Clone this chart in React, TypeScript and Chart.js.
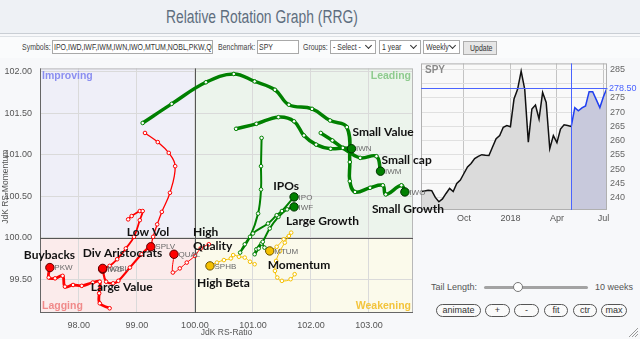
import React, { useEffect, useRef } from 'react';
import { Chart, registerables } from 'chart.js';

Chart.register(...registerables);

// ---------------- RRG data (JdK RS-Ratio / JdK RS-Momentum), oldest -> latest ----------------
const tickers = ['IPO', 'IWD', 'IWF', 'IWM', 'IWN', 'IWO', 'MTUM', 'NOBL', 'PKW', 'QUAL', 'SPHB', 'SPLV'];
const names = ['IPOs', 'Large Value', 'Large Growth', 'Small cap', 'Small Value', 'Small Growth', 'Momentum', 'Div Aristocrats', 'Buybacks', 'High\nQuality', 'High Beta', 'Low Vol'];

const ipoRatio = [101.15, 101.14, 101.14, 101.09, 100.95, 100.78, 100.86, 101.0, 101.26, 101.41, 101.5, 101.71];
const ipoMomentum = [101.2, 100.86, 100.58, 100.29, 100.01, 99.82, 99.92, 100.05, 100.17, 100.27, 100.32, 100.49];

const iwdRatio = [99.26, 99.08, 98.88, 98.68, 98.59, 98.47, 98.41];
const iwdMomentum = [99.92, 99.8, 99.64, 99.48, 99.45, 99.47, 99.62];

const iwfRatio = [101.2, 101.15, 101.06, 101.03, 101.1, 101.17, 101.29, 101.44, 101.59, 101.71];
const iwfMomentum = [99.88, 99.93, 99.86, 99.8, 99.87, 99.95, 100.11, 100.25, 100.34, 100.37];

const iwmRatio = [102.17, 102.37, 102.55, 102.85, 103.13, 103.2];
const iwmMomentum = [101.26, 101.17, 101.08, 100.96, 100.98, 100.8];

const iwnRatio = [100.71, 101.06, 101.44, 101.71, 101.88, 102.09, 102.34, 102.56, 102.7];
const iwnMomentum = [101.31, 101.37, 101.45, 101.4, 101.23, 101.12, 101.07, 101.08, 101.07];

const iwoRatio = [99.1, 99.6, 100.19, 100.67, 101.03, 101.38, 101.62, 102.02, 102.33, 102.62, 102.67, 102.67, 102.76, 103.02, 103.24, 103.29, 103.56, 103.62];
const iwoMomentum = [101.38, 101.61, 101.87, 101.97, 101.88, 101.78, 101.6, 101.55, 101.41, 101.33, 100.91, 100.68, 100.55, 100.6, 100.63, 100.52, 100.63, 100.55];

const mtumRatio = [101.72, 101.65, 101.5, 101.42, 101.38, 101.4, 101.47, 101.55, 101.62, 101.66, 101.53, 101.41, 101.29];
const mtumMomentum = [99.56, 99.5, 99.48, 99.52, 99.6, 99.72, 99.84, 99.94, 100.02, 100.06, 99.98, 99.89, 99.84];

const noblRatio = [98.85, 98.91, 99.05, 99.1, 99.05, 98.95, 98.81, 98.66, 98.53, 98.41];
const noblMomentum = [100.22, 100.26, 100.32, 100.32, 100.21, 100.01, 99.87, 99.74, 99.66, 99.63];

const pkwRatio = [98.53, 98.36, 98.35, 98.36, 98.24, 98.05, 97.9, 97.76, 97.72, 97.59, 97.48, 97.5];
const pkwMomentum = [99.15, 99.21, 99.33, 99.47, 99.46, 99.42, 99.43, 99.41, 99.54, 99.51, 99.52, 99.64];

const qualRatio = [100.24, 100.1, 100.0, 99.86, 99.74, 99.62, 99.64];
const qualMomentum = [99.92, 99.87, 99.78, 99.7, 99.63, 99.58, 99.8];

const sphbRatio = [101.03, 100.95, 100.86, 100.76, 100.66, 100.62, 100.5, 100.38, 100.26];
const sphbMomentum = [99.68, 99.71, 99.76, 99.77, 99.79, 99.75, 99.73, 99.7, 99.66];

const splvRatio = [99.14, 99.36, 99.55, 99.66, 99.57, 99.43, 99.35, 99.28, 99.24];
const splvMomentum = [101.26, 101.15, 101.02, 100.86, 100.54, 100.31, 100.16, 100.01, 99.89];

const ratios = [ipoRatio, iwdRatio, iwfRatio, iwmRatio, iwnRatio, iwoRatio, mtumRatio, noblRatio, pkwRatio, qualRatio, sphbRatio, splvRatio];
const momenta = [ipoMomentum, iwdMomentum, iwfMomentum, iwmMomentum, iwnMomentum, iwoMomentum, mtumMomentum, noblMomentum, pkwMomentum, qualMomentum, sphbMomentum, splvMomentum];

const rrgXTicks = [98, 99, 100, 101, 102, 103];
const rrgYTicks = [99.5, 100, 100.5, 101, 101.5, 102];

// ---------------- SPY benchmark (weekly close) ----------------
const spyDates = [
  '2017-07-14', '2017-07-21', '2017-07-28', '2017-08-04', '2017-08-11', '2017-08-18', '2017-08-25', '2017-09-01',
  '2017-09-08', '2017-09-15', '2017-09-22', '2017-09-29', '2017-10-06', '2017-10-13', '2017-10-20', '2017-10-27',
  '2017-11-03', '2017-11-10', '2017-11-17', '2017-11-24', '2017-12-01', '2017-12-08', '2017-12-15', '2017-12-22',
  '2017-12-29', '2018-01-05', '2018-01-12', '2018-01-19', '2018-01-26', '2018-02-02', '2018-02-09', '2018-02-16',
  '2018-02-23', '2018-03-02', '2018-03-09', '2018-03-16', '2018-03-23', '2018-03-30', '2018-04-06', '2018-04-13',
  '2018-04-20', '2018-04-27', '2018-05-04', '2018-05-11', '2018-05-18', '2018-05-25', '2018-06-01', '2018-06-08',
  '2018-06-15', '2018-06-22', '2018-06-29', '2018-07-06', '2018-07-13',
];
const spyClose = [
  242.1, 242.4, 242.6, 242.5, 240.1, 238.6, 239.6, 241.5, 243.3, 242.2, 245.0, 246.2, 248.5, 250.8, 252.0, 253.7,
  254.5, 255.1, 254.9, 254.8, 257.8, 260.7, 261.8, 264.7, 265.3, 264.9, 274.6, 278.0, 284.4, 278.0, 259.5, 271.1,
  272.5, 267.6, 276.9, 273.4, 257.2, 261.8, 259.3, 264.1, 265.6, 265.3, 265.0, 271.6, 270.5, 271.5, 272.2, 277.2,
  277.2, 274.4, 271.6, 275.4, 278.5,
];
const spyYTicks = [240, 245, 250, 255, 260, 265, 270, 275, 280, 285];
const tailWeeks = 10;

// ---------------- styles ----------------
const SANS = '"Liberation Sans", Arial, sans-serif';
const LABEL_FONT = 'Lato, "Open Sans", sans-serif';

const tailWidth: Record<string, number> = {
  IPO: 2, IWD: 2.2, IWF: 2, IWM: 3.5, IWN: 3.5, IWO: 3.5, MTUM: 1, NOBL: 1.8, PKW: 2.8, QUAL: 1, SPHB: 1, SPLV: 1.3,
};
const nameOffset: Record<string, { dx: number; dy: number; align: CanvasTextAlign }> = {
  IPO: { dx: -8, dy: -11, align: 'center' },
  IWD: { dx: -12, dy: 18, align: 'left' },
  IWF: { dx: -8, dy: 14, align: 'left' },
  IWM: { dx: 1, dy: -11, align: 'left' },
  IWN: { dx: 1, dy: -17, align: 'left' },
  IWO: { dx: -33, dy: 17, align: 'left' },
  MTUM: { dx: -2, dy: 14.5, align: 'left' },
  NOBL: { dx: -20, dy: -15.5, align: 'left' },
  PKW: { dx: -26, dy: -12.5, align: 'left' },
  QUAL: { dx: 19, dy: -22, align: 'left' },
  SPHB: { dx: -13, dy: 17, align: 'left' },
  SPLV: { dx: -24, dy: -14.5, align: 'left' },
};

function quadrantColors(x: number, y: number) {
  if (x >= 100 && y >= 100) return { line: '#008000', head: '#008000', edge: '#003000' };
  if (x >= 100) return { line: '#f5c000', head: '#f5c000', edge: '#6a5200' };
  if (y >= 100) return { line: '#3030e0', head: '#3030e0', edge: '#101060' };
  return { line: '#ff0000', head: '#ff0000', edge: '#600000' };
}

const series = tickers.map((t, i) => {
  const r = ratios[i];
  const m = momenta[i];
  const hx = r[r.length - 1];
  const hy = m[m.length - 1];
  return { ticker: t, name: names[i], ratio: r, momentum: m, colors: quadrantColors(hx, hy) };
});

const rrgPlugin = {
  id: 'rrgDecor',
  beforeDraw(chart: any) {
    const { ctx, chartArea: a, scales } = chart;
    const cx = scales.x.getPixelForValue(100);
    const cy = scales.y.getPixelForValue(100);
    ctx.save();
    ctx.fillStyle = '#efeff8';
    ctx.fillRect(a.left, a.top, cx - a.left, cy - a.top);
    ctx.fillStyle = '#ecf4ec';
    ctx.fillRect(cx, a.top, a.right - cx, cy - a.top);
    ctx.fillStyle = '#fbebeb';
    ctx.fillRect(a.left, cy, cx - a.left, a.bottom - cy);
    ctx.fillStyle = '#fbfaeb';
    ctx.fillRect(cx, cy, a.right - cx, a.bottom - cy);
    ctx.restore();
  },
  beforeDatasetsDraw(chart: any) {
    const { ctx, chartArea: a, scales } = chart;
    const cx = scales.x.getPixelForValue(100);
    const cy = scales.y.getPixelForValue(100);
    ctx.save();
    ctx.strokeStyle = '#b8b8b8';
    ctx.lineWidth = 1;
    ctx.strokeRect(a.left + 0.5, a.top + 0.5, a.right - a.left - 1, a.bottom - a.top - 1);
    ctx.strokeStyle = '#666';
    ctx.beginPath();
    ctx.moveTo(a.left + 0.5, a.top);
    ctx.lineTo(a.left + 0.5, a.bottom);
    ctx.moveTo(a.left, a.bottom - 0.5);
    ctx.lineTo(a.right, a.bottom - 0.5);
    ctx.stroke();
    ctx.strokeStyle = '#555';
    ctx.beginPath();
    ctx.moveTo(Math.round(cx) + 0.5, a.top);
    ctx.lineTo(Math.round(cx) + 0.5, a.bottom);
    ctx.moveTo(a.left, Math.round(cy) + 0.5);
    ctx.lineTo(a.right, Math.round(cy) + 0.5);
    ctx.stroke();
    ctx.font = `bold 10.5px ${SANS}`;
    ctx.textBaseline = 'middle';
    ctx.textAlign = 'left';
    ctx.fillStyle = '#8b8ff0';
    ctx.fillText('Improving', a.left + 2, a.top + 7.5);
    ctx.fillStyle = '#f08a8a';
    ctx.fillText('Lagging', a.left + 2, a.bottom - 6.5);
    ctx.textAlign = 'right';
    ctx.fillStyle = '#8fcb8f';
    ctx.fillText('Leading', a.right - 2, a.top + 7.5);
    ctx.fillStyle = '#f3c43c';
    ctx.fillText('Weakening', a.right - 2, a.bottom - 6.5);
    ctx.fillStyle = '#555';
    ctx.font = `8.5px ${SANS}`;
    ctx.textAlign = 'center';
    ctx.fillText('JdK RS-Ratio', (a.left + a.right) / 2, a.bottom + 20);
    ctx.translate(6, (a.top + a.bottom) / 2 - 4);
    ctx.rotate(-Math.PI / 2);
    ctx.fillText('JdK RS-Momentum', 0, 0);
    ctx.restore();
  },
  afterDatasetsDraw(chart: any) {
    const { ctx } = chart;
    const headMeta = chart.getDatasetMeta(series.length);
    ctx.save();
    ctx.textBaseline = 'middle';
    series.forEach((s, i) => {
      const el = headMeta.data[i];
      if (!el) return;
      const px = el.x;
      const py = el.y;
      ctx.font = `8px ${SANS}`;
      ctx.fillStyle = '#6a6a6a';
      ctx.textAlign = 'left';
      ctx.fillText(s.ticker, px + 4.5, py + 0.5);
      const o = nameOffset[s.ticker];
      ctx.font = `bold 12px ${LABEL_FONT}`;
      ctx.fillStyle = '#111';
      ctx.textAlign = o.align;
      s.name.split('\n').forEach((line, k) => {
        ctx.fillText(line, px + o.dx, py + o.dy + k * 14);
      });
    });
    ctx.restore();
  },
};

function rrgConfig(): any {
  const tailSets = series.map((s) => ({
    data: s.ratio.map((x, j) => ({ x, y: s.momentum[j] })),
    showLine: true,
    tension: 0.4,
    borderColor: s.colors.line,
    borderWidth: tailWidth[s.ticker],
    pointRadius: s.ratio.map((_, j) => (j === s.ratio.length - 1 ? 0 : 1.8)),
    pointBackgroundColor: '#ffffff',
    pointBorderColor: s.colors.line,
    pointBorderWidth: 1,
    order: 0,
  }));
  const heads = {
    data: series.map((s) => ({ x: s.ratio[s.ratio.length - 1], y: s.momentum[s.momentum.length - 1] })),
    showLine: false,
    pointRadius: 4.2,
    pointBackgroundColor: series.map((s) => s.colors.head),
    pointBorderColor: series.map((s) => s.colors.edge),
    pointBorderWidth: 1,
    order: -1,
  };
  return {
    type: 'scatter',
    data: { datasets: [...tailSets, heads] },
    options: {
      animation: false,
      responsive: false,
      maintainAspectRatio: false,
      events: [],
      layout: { padding: { left: 0, top: 7, right: 47, bottom: 0 } },
      plugins: { legend: { display: false }, tooltip: { enabled: false } },
      scales: {
        x: {
          type: 'linear',
          min: 97.33,
          max: 103.76,
          afterBuildTicks: (sc: any) => { sc.ticks = rrgXTicks.map((value) => ({ value })); },
          afterFit: (sc: any) => { sc.height = 26; },
          ticks: {
            callback: (v: any) => Number(v).toFixed(2),
            font: { size: 9, family: SANS },
            color: '#555',
            padding: 7,
            maxRotation: 0,
          },
          grid: { color: '#dadada', drawTicks: false },
          border: { display: false },
        },
        y: {
          type: 'linear',
          min: 99.093,
          max: 102.037,
          afterBuildTicks: (sc: any) => { sc.ticks = rrgYTicks.map((value) => ({ value })); },
          afterFit: (sc: any) => { sc.width = 40; },
          ticks: {
            callback: (v: any) => Number(v).toFixed(2),
            font: { size: 9, family: SANS },
            color: '#555',
            padding: 8,
          },
          grid: { color: '#dadada', drawTicks: false },
          border: { display: false },
        },
      },
    },
    plugins: [rrgPlugin],
  };
}

const monthNames = ['Jan', 'Feb', 'Mar', 'Apr', 'May', 'Jun', 'Jul', 'Aug', 'Sep', 'Oct', 'Nov', 'Dec'];
function spyTickLabel(i: number): string {
  if (i <= 0 || i >= spyDates.length) return '';
  const d = new Date(spyDates[i] + 'T00:00:00Z');
  const p = new Date(spyDates[i - 1] + 'T00:00:00Z');
  const m = d.getUTCMonth();
  if (m === p.getUTCMonth() || m % 3 !== 0) return '';
  return m === 0 ? String(d.getUTCFullYear()) : monthNames[m];
}

const spyPlugin = {
  id: 'spyDecor',
  beforeDraw(chart: any) {
    const { ctx, chartArea: a } = chart;
    ctx.save();
    ctx.fillStyle = '#f9f9f9';
    ctx.fillRect(a.left, a.top, a.right - a.left, a.bottom - a.top);
    ctx.restore();
  },
  afterDatasetsDraw(chart: any) {
    const { ctx, chartArea: a, scales } = chart;
    const tailStart = spyClose.length - 1 - tailWeeks;
    const last = spyClose[spyClose.length - 1];
    const vx = Math.round(scales.x.getPixelForValue(tailStart)) + 0.5;
    const hy = Math.round(scales.y.getPixelForValue(last)) + 0.5;
    ctx.save();
    ctx.strokeStyle = '#b0b0b0';
    ctx.lineWidth = 1;
    ctx.strokeRect(a.left + 0.5, a.top + 0.5, a.right - a.left - 1, a.bottom - a.top - 1);
    ctx.strokeStyle = '#4a63ff';
    ctx.beginPath();
    ctx.moveTo(vx, a.top);
    ctx.lineTo(vx, a.bottom);
    ctx.moveTo(a.left, hy);
    ctx.lineTo(a.right, hy);
    ctx.stroke();
    ctx.fillStyle = '#4a63ff';
    ctx.font = `9px ${SANS}`;
    ctx.textBaseline = 'middle';
    ctx.textAlign = 'left';
    ctx.fillText(last.toFixed(2), a.right + 2, hy);
    ctx.fillStyle = '#8a8a8a';
    ctx.font = `bold 10px ${SANS}`;
    ctx.fillText('SPY', a.left + 4, a.top + 7);
    ctx.restore();
  },
};

function spyConfig(): any {
  const tailStart = spyClose.length - 1 - tailWeeks;
  return {
    type: 'line',
    data: {
      labels: spyDates,
      datasets: [
        {
          data: spyClose.map((v, i) => (i <= tailStart ? v : null)),
          borderColor: '#111',
          borderWidth: 1.5,
          backgroundColor: '#dbdbdb',
          fill: 'start',
          pointRadius: 0,
          tension: 0,
          spanGaps: false,
        },
        {
          data: spyClose.map((v, i) => (i >= tailStart ? v : null)),
          borderColor: '#1f3ff0',
          borderWidth: 1.5,
          backgroundColor: '#c8c9dc',
          fill: 'start',
          pointRadius: 0,
          tension: 0,
          spanGaps: false,
        },
      ],
    },
    options: {
      animation: false,
      responsive: false,
      maintainAspectRatio: false,
      events: [],
      layout: { padding: { left: 6, top: 7, right: 0, bottom: 0 } },
      plugins: { legend: { display: false }, tooltip: { enabled: false } },
      scales: {
        x: {
          type: 'category',
          afterFit: (sc: any) => { sc.height = 20; },
          ticks: {
            autoSkip: false,
            maxRotation: 0,
            callback: (_v: any, i: number) => spyTickLabel(i),
            font: { size: 9, family: SANS },
            color: '#555',
            padding: 3,
          },
          grid: {
            color: (c: any) => (spyTickLabel(c.index) ? '#c4c4c4' : 'rgba(0,0,0,0)'),
            drawTicks: false,
          },
          border: { display: false },
        },
        y: {
          type: 'linear',
          position: 'right',
          min: 235.7,
          max: 287.1,
          afterBuildTicks: (sc: any) => { sc.ticks = spyYTicks.map((value) => ({ value })); },
          afterFit: (sc: any) => { sc.width = 33; },
          ticks: {
            callback: (v: any) => (Number(v) === 280 ? '' : String(v)),
            font: { size: 9, family: SANS },
            color: '#666',
            padding: 3,
          },
          grid: { color: '#e0e0e0', drawTicks: false },
          border: { display: false },
        },
      },
    },
    plugins: [spyPlugin],
  };
}

// ---------------- page pieces ----------------
const narrow = (text: string, k = 0.82) => (
  <span style={{ display: 'inline-block', transform: `scaleX(${k})`, transformOrigin: 'left center', whiteSpace: 'nowrap' }}>
    {text}
  </span>
);

const box = (left: number, width: number, text: string) => (
  <div
    style={{
      position: 'absolute', left, top: 40, width, height: 14, boxSizing: 'border-box',
      border: '1px solid #a9a9a9', background: '#fff', fontSize: 8.5, lineHeight: '12px',
      paddingLeft: 1, whiteSpace: 'nowrap', overflow: 'hidden', color: '#333',
    }}
  >
    {narrow(text)}
  </div>
);

const selectBox = (left: number, width: number, text: string) => (
  <div
    style={{
      position: 'absolute', left, top: 40, width, height: 14, boxSizing: 'border-box',
      border: '1px solid #a9a9a9', background: '#fff', fontSize: 8.5, lineHeight: '12px',
      paddingLeft: 2, whiteSpace: 'nowrap', overflow: 'hidden', color: '#333',
    }}
  >
    {narrow(text)}
    <span
      style={{
        position: 'absolute', right: 4, top: 2, width: 4, height: 4,
        borderRight: '1.4px solid #333', borderBottom: '1.4px solid #333', transform: 'rotate(45deg)',
      }}
    />
  </div>
);

const label = (left: number, text: string) => (
  <div style={{ position: 'absolute', left, top: 41, fontSize: 8.5, lineHeight: '12px', color: '#444', whiteSpace: 'nowrap' }}>
    {narrow(text)}
  </div>
);

const pill = (left: number, width: number, text: string) => (
  <div
    style={{
      position: 'absolute', left, top: 304, width, height: 13, boxSizing: 'border-box',
      border: '1px solid #555', borderRadius: 7, background: '#fafafa', fontSize: 9,
      lineHeight: '11px', textAlign: 'center', color: '#333',
    }}
  >
    {text}
  </div>
);

export default function App() {
  const rrgRef = useRef<HTMLCanvasElement>(null);
  const spyRef = useRef<HTMLCanvasElement>(null);

  useEffect(() => {
    document.body.style.margin = '0';
    const spy = new Chart(spyRef.current as HTMLCanvasElement, spyConfig());
    const rrg = new Chart(rrgRef.current as HTMLCanvasElement, rrgConfig());
    return () => {
      rrg.destroy();
      spy.destroy();
    };
  }, []);

  return (
    <div
      style={{
        position: 'fixed', left: 0, top: 0, width: 640, height: 339, overflow: 'hidden',
        background: '#f7f8fa', fontFamily: SANS,
      }}
    >
      <div
        style={{
          position: 'absolute', left: 0, top: 0, width: 640, height: 33, background: '#eef1f5',
          borderBottom: '1px solid #c9ced4',
        }}
      />
      <div
        style={{
          position: 'absolute', left: 166, top: 0, height: 34, fontSize: 18, lineHeight: '34px',
          color: '#5e6e7e', whiteSpace: 'nowrap',
        }}
      >
        {narrow('Relative Rotation Graph (RRG)', 0.77)}
      </div>
      <div
        style={{
          position: 'absolute', left: 0, top: 36, width: 640, height: 21, background: '#fafbfc',
          borderTop: '1px solid #dde1e5',
        }}
      />
      {label(22, 'Symbols:')}
      {box(52, 161, 'IPO,IWD,IWF,IWM,IWN,IWO,MTUM,NOBL,PKW,QUAL,SPHB,SPLV')}
      {label(218, 'Benchmark:')}
      {box(257, 42, 'SPY')}
      {label(303, 'Groups:')}
      {selectBox(330, 46, '- Select -')}
      {selectBox(379, 42, '1 year')}
      {selectBox(423, 37, 'Weekly')}
      <div
        style={{
          position: 'absolute', left: 463, top: 41, width: 34, height: 14, boxSizing: 'border-box',
          border: '1px solid #adadad', background: '#e6e6e6', fontSize: 8.5, lineHeight: '12px',
          paddingLeft: 6, color: '#333',
        }}
      >
        {narrow('Update')}
      </div>

      <canvas
        ref={spyRef}
        width={225}
        height={175}
        style={{ position: 'absolute', left: 415, top: 55, width: 225, height: 175, zIndex: 1 }}
      />

      <div style={{ position: 'absolute', left: 431, top: 281, fontSize: 9, lineHeight: '12px', color: '#555' }}>Tail Length:</div>
      <div style={{ position: 'absolute', left: 484, top: 286, width: 104, height: 3, background: '#a3a3a3', borderRadius: 2 }} />
      <div
        style={{
          position: 'absolute', left: 513, top: 282, width: 10, height: 10, boxSizing: 'border-box',
          borderRadius: 6, background: '#fff', border: '1px solid #777',
        }}
      />
      <div style={{ position: 'absolute', left: 595, top: 281, fontSize: 9, lineHeight: '12px', color: '#555' }}>10 weeks</div>
      {pill(436, 45, 'animate')}
      {pill(485, 25, '+')}
      {pill(514, 25, '-')}
      {pill(544, 24, 'fit')}
      {pill(573, 24, 'ctr')}
      {pill(601, 26, 'max')}
      <svg style={{ position: 'absolute', left: 628, top: 327 }} width={11} height={11}>
        <line x1={10} y1={1} x2={1} y2={10} stroke="#999" strokeWidth={1} />
        <line x1={10} y1={4} x2={4} y2={10} stroke="#999" strokeWidth={1} />
        <line x1={10} y1={7} x2={7} y2={10} stroke="#999" strokeWidth={1} />
      </svg>

      <canvas
        ref={rrgRef}
        width={460}
        height={284}
        style={{ position: 'absolute', left: 0, top: 55, width: 460, height: 284, zIndex: 2 }}
      />
    </div>
  );
}
